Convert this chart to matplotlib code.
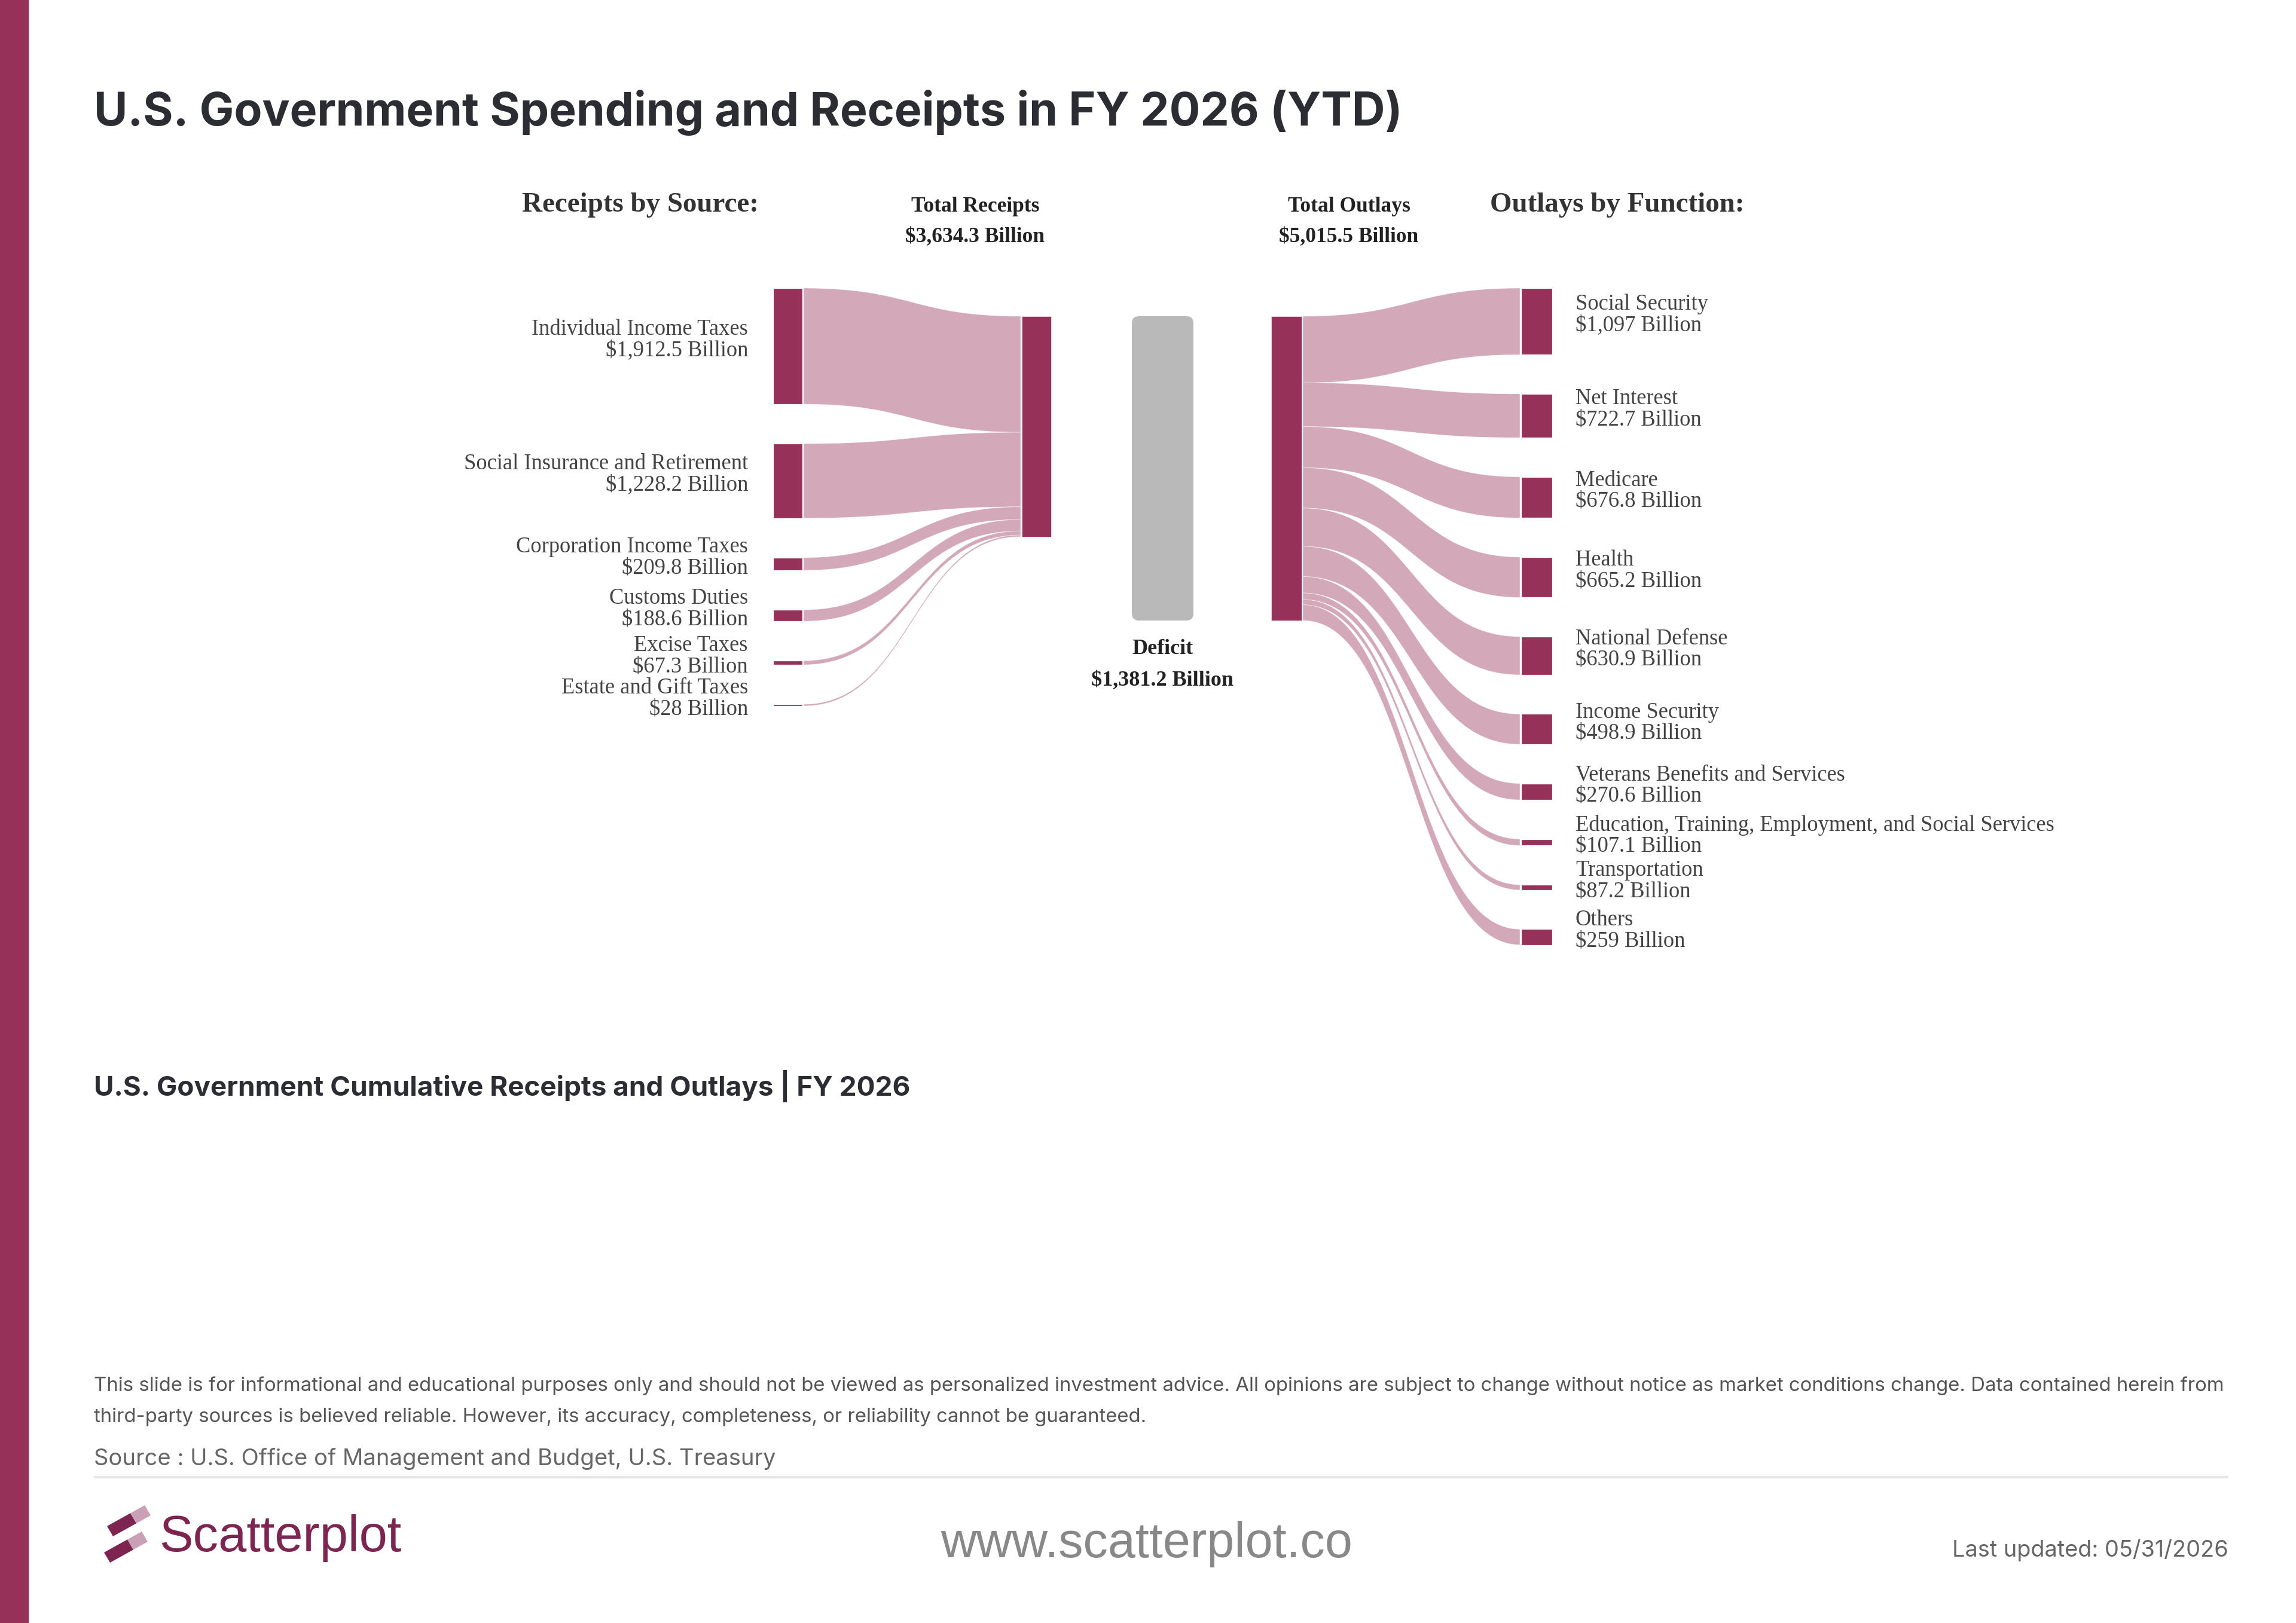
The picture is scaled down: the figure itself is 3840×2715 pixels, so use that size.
import matplotlib
matplotlib.use("Agg")
import matplotlib.pyplot as plt
from matplotlib.path import Path
from matplotlib.patches import PathPatch, Rectangle, FancyBboxPatch, Polygon

# data (billions of dollars, FY 2026 YTD)
receipt_labels = ["Individual Income Taxes", "Social Insurance and Retirement",
                  "Corporation Income Taxes", "Customs Duties", "Excise Taxes",
                  "Estate and Gift Taxes"]
receipt_values = [1912.5, 1228.2, 209.8, 188.6, 67.3, 28.0]

outlay_labels = ["Social Security", "Net Interest", "Medicare", "Health",
                 "National Defense", "Income Security", "Veterans Benefits and Services",
                 "Education, Training, Employment, and Social Services",
                 "Transportation", "Others"]
outlay_values = [1097.0, 722.7, 676.8, 665.2, 630.9, 498.9, 270.6, 107.1, 87.2, 259.0]

total_receipts = 3634.3
total_outlays = 5015.5
deficit = 1381.2

# colors
NODE = "#96325A"
LINK = (150 / 255, 50 / 255, 90 / 255, 0.42)
GRAY_BOX = "#B9B9B9"
LABEL = "#444444"
DARK = "#2B2D33"

W, H, DPI = 3840, 2715, 100
PX = 0.1015          # pixels per billion
SERIF = "Liberation Serif"


def money(v):
    s = f"{v:,.1f}"
    if s.endswith(".0"):
        s = s[:-2]
    return f"${s} Billion"


def link(ax, x0, a0, b0, x1, a1, b1):
    xm = (x0 + x1) / 2
    verts = [(x0, a0), (xm, a0), (xm, a1), (x1, a1), (x1, b1),
             (xm, b1), (xm, b0), (x0, b0), (x0, a0)]
    codes = [Path.MOVETO, Path.CURVE4, Path.CURVE4, Path.CURVE4, Path.LINETO,
             Path.CURVE4, Path.CURVE4, Path.CURVE4, Path.CLOSEPOLY]
    ax.add_patch(PathPatch(Path(verts, codes), facecolor=LINK,
                           edgecolor=(1, 1, 1, 0.6), lw=0.5))


fig = plt.figure(figsize=(W / DPI, H / DPI), dpi=DPI)
ax = fig.add_axes([0, 0, 1, 1])
ax.set_xlim(0, W)
ax.set_ylim(H, 0)
ax.axis("off")

# side band
ax.add_patch(Rectangle((0, 0), 47, H, color=NODE))

# title
ax.text(157, 210, "U.S. Government Spending and Receipts in FY 2026 (YTD)",
        fontsize=55.4, fontfamily="Inter", fontweight="bold", color=DARK, va="baseline")

# column headers
hdr = dict(fontfamily=SERIF, fontweight="bold", ha="center", va="center")
ax.text(1071, 343, "Receipts by Source:", fontsize=33.8, color="#333333", **hdr)
ax.text(2705, 343, "Outlays by Function:", fontsize=33.8, color="#333333", **hdr)
ax.text(1631, 345, "Total Receipts", fontsize=25.5, color="#222222", **hdr)
ax.text(1631, 397, money(total_receipts), fontsize=25.5, color="#222222", **hdr)
ax.text(2256, 345, "Total Outlays", fontsize=25.5, color="#222222", **hdr)
ax.text(2256, 397, money(total_outlays), fontsize=25.5, color="#222222", **hdr)

# ---- receipts side ----
src_x0, src_x1 = 1293, 1342
mid_x0, mid_x1 = 1709, 1758
top, gap = 482, 66
tgt = 529
y = top
for lab, v in zip(receipt_labels, receipt_values):
    h = v * PX
    ax.add_patch(Rectangle((src_x0, y), src_x1 - src_x0, h, facecolor=NODE,
                           edgecolor="white", lw=0.9))
    link(ax, src_x1 + 2, y, y + h, mid_x0 - 2, tgt, tgt + h)
    c = y + h / 2 - 11
    ax.text(1251, c - 17.5, lab, fontsize=26.3, fontfamily=SERIF, color=LABEL,
            ha="right", va="center")
    ax.text(1251, c + 17.5, money(v), fontsize=26.3, fontfamily=SERIF, color=LABEL,
            ha="right", va="center")
    tgt += h
    y += h + gap

ax.add_patch(Rectangle((mid_x0, 529), mid_x1 - mid_x0, total_receipts * PX,
                       facecolor=NODE, edgecolor="white", lw=0.4))

# ---- deficit ----
ax.add_patch(FancyBboxPatch((1893, 529), 103, total_outlays * PX,
                            boxstyle="round,pad=0,rounding_size=12",
                            facecolor=GRAY_BOX, edgecolor="none"))
ax.text(1944, 1085, "Deficit", fontsize=26, color="#222222", **hdr)
ax.text(1944, 1139, money(deficit), fontsize=26, color="#222222", **hdr)

# ---- outlays side ----
out_x0, out_x1 = 2126, 2177
dst_x0, dst_x1 = 2544, 2596
ax.add_patch(Rectangle((out_x0, 529), out_x1 - out_x0, total_outlays * PX,
                       facecolor=NODE, edgecolor="white", lw=0.4))
gap = 65.5
y = top
src = 529
for lab, v in zip(outlay_labels, outlay_values):
    h = v * PX
    link(ax, out_x1 + 2, src, src + h, dst_x0 - 2, y, y + h)
    ax.add_patch(Rectangle((dst_x0, y), dst_x1 - dst_x0, h, facecolor=NODE,
                           edgecolor="white", lw=0.9))
    c = y + h / 2 - 11
    ax.text(2635, c - 17.5, lab, fontsize=26.3, fontfamily=SERIF, color=LABEL,
            ha="left", va="center")
    ax.text(2635, c + 17.5, money(v), fontsize=26.3, fontfamily=SERIF, color=LABEL,
            ha="left", va="center")
    src += h
    y += h + gap

# second section header (empty chart area below)
ax.text(157, 1817, "U.S. Government Cumulative Receipts and Outlays | FY 2026",
        fontsize=33, fontfamily="Inter", fontweight="bold", color=DARK, va="center")

# footer
disc1 = ("This slide is for informational and educational purposes only and should not be "
         "viewed as personalized investment advice. All opinions are subject to change without "
         "notice as market conditions change. Data contained herein from")
disc2 = ("third-party sources is believed reliable. However, its accuracy, completeness, "
         "or reliability cannot be guaranteed.")
ax.text(157, 2318, disc1, fontsize=23.7, fontfamily="Inter", color="#555555", va="center")
ax.text(157, 2370, disc2, fontsize=23.7, fontfamily="Inter", color="#555555", va="center")
ax.text(157, 2441, "Source : U.S. Office of Management and Budget, U.S. Treasury",
        fontsize=27.5, fontfamily="Inter", color="#666666", va="center")
ax.plot([157, 3727], [2471, 2471], color="#E6E6E6", lw=3, solid_capstyle="butt")

# logo
for dx, dy in [(0, 0), (-5, 44)]:
    ll, ul, ur, lr = (189 + dx, 2570 + dy), (179 + dx, 2553 + dy), (242 + dx, 2518 + dy), (252 + dx, 2535 + dy)
    t = 0.62
    ml = (ul[0] + (ur[0] - ul[0]) * t, ul[1] + (ur[1] - ul[1]) * t)
    mr = (ll[0] + (lr[0] - ll[0]) * t, ll[1] + (lr[1] - ll[1]) * t)
    ax.add_patch(Polygon([ll, ul, ml, mr], closed=True, color="#7D2550", lw=0))
    ax.add_patch(Polygon([mr, ml, ur, lr], closed=True, color="#C9A0B5", lw=0))
ax.text(266, 2573, "Scatterplot", fontsize=61, fontfamily="Liberation Sans",
        color="#7D2550", va="center")
ax.text(1918, 2583, "www.scatterplot.co", fontsize=59.5, fontfamily="Liberation Sans",
        color="#888888", ha="center", va="center")
ax.text(3727, 2594, "Last updated: 05/31/2026", fontsize=27.3, fontfamily="Inter",
        color="#666666", ha="right", va="center")

fig.savefig("out.png", dpi=DPI, facecolor="white")
